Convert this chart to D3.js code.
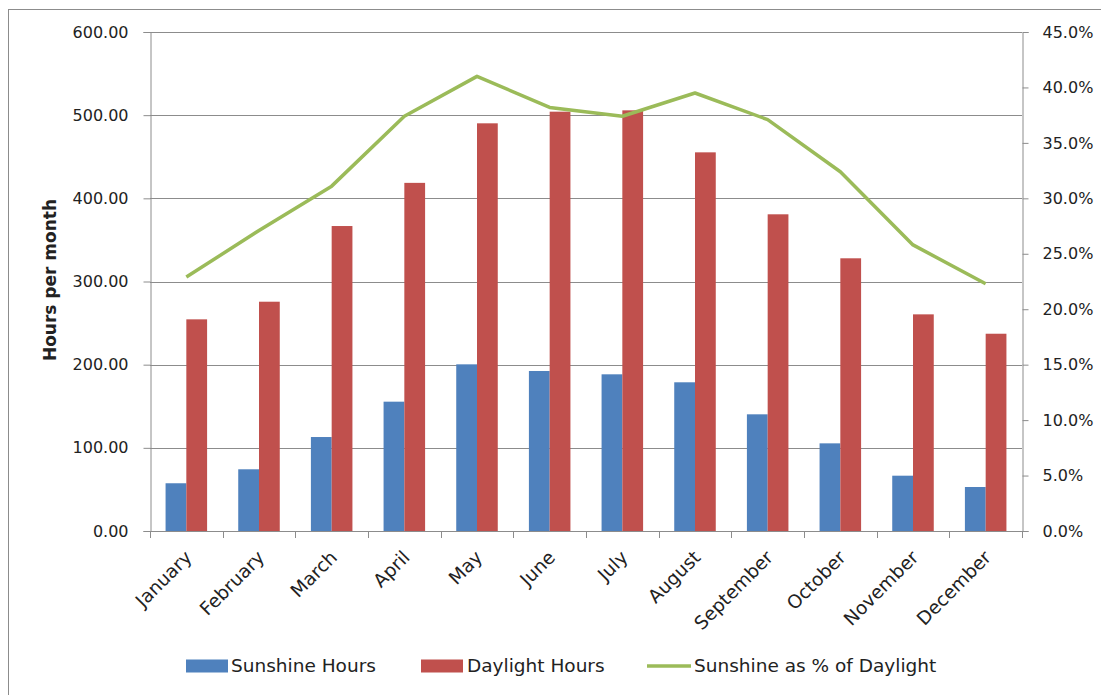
<!DOCTYPE html>
<html>
<head>
<meta charset="utf-8">
<script src="https://cdn.jsdelivr.net/npm/d3@7"></script>
<style>
  html, body { margin: 0; padding: 0; background: #fff; }
  svg { display: block; }
  text { font-family: "DejaVu Sans", Verdana, sans-serif; fill: #222; }
</style>
</head>
<body>
<svg id="chart" width="1101" height="695"></svg>
<script>
const months = ["January","February","March","April","May","June","July","August","September","October","November","December"];
const sunshineHours = [57.4, 74.2, 113.0, 155.5, 200.4, 192.4, 188.4, 178.8, 140.3, 105.4, 66.5, 52.9];
const daylightHours = [254.5, 275.7, 366.7, 418.6, 490.2, 504.2, 505.8, 455.3, 380.8, 327.9, 260.5, 237.2];
const sunshinePct = [0.229, 0.271, 0.311, 0.374, 0.410, 0.382, 0.374, 0.395, 0.371, 0.324, 0.258, 0.223];
const leftTicks = [0, 100, 200, 300, 400, 500, 600];
const rightTicks = [0, 0.05, 0.10, 0.15, 0.20, 0.25, 0.30, 0.35, 0.40, 0.45];
const seriesNames = ["Sunshine Hours", "Daylight Hours", "Sunshine as % of Daylight"];

const colors = { sun: "#4F81BD", day: "#C0504D", pct: "#9BBB59", grid: "#8c8c8c", axis: "#8c8c8c" };

const svg = d3.select("#chart");
const L = 150, R = 1022, T = 32, B = 531;

// outer border
svg.append("rect").attr("x", 8.5).attr("y", 9.5).attr("width", 1200).attr("height", 800)
  .attr("fill", "none").attr("stroke", "#8c8c8c").attr("stroke-width", 1);

const x = d3.scaleBand().domain(months).range([L, R]).paddingInner(0).paddingOuter(0);
const bw = x.bandwidth() / 3.5;
const y = d3.scaleLinear().domain([0, 600]).range([B, T]);
const y2 = d3.scaleLinear().domain([0, 0.45]).range([B, T]);

// gridlines
svg.append("g").selectAll("line").data(leftTicks.filter(d => d > 0)).join("line")
  .attr("x1", L).attr("x2", R)
  .attr("y1", d => Math.round(y(d)) + 0.5).attr("y2", d => Math.round(y(d)) + 0.5)
  .attr("stroke", colors.grid).attr("stroke-width", 1);

// bars
const gBars = svg.append("g");
gBars.selectAll("rect.sun").data(sunshineHours).join("rect").attr("class", "sun")
  .attr("x", (d, i) => x(months[i]) + x.bandwidth() / 2 - bw)
  .attr("width", bw)
  .attr("y", d => y(d)).attr("height", d => B - y(d))
  .attr("fill", colors.sun);
gBars.selectAll("rect.day").data(daylightHours).join("rect").attr("class", "day")
  .attr("x", (d, i) => x(months[i]) + x.bandwidth() / 2)
  .attr("width", bw)
  .attr("y", d => y(d)).attr("height", d => B - y(d))
  .attr("fill", colors.day);

// line
const line = d3.line()
  .x((d, i) => x(months[i]) + x.bandwidth() / 2)
  .y(d => y2(d));
svg.append("path").datum(sunshinePct).attr("d", line)
  .attr("fill", "none").attr("stroke", colors.pct).attr("stroke-width", 3.5)
  .attr("stroke-linejoin", "round");

// left axis
const axL = d3.axisLeft(y).tickValues(leftTicks).tickFormat(d3.format(".2f")).tickSize(7).tickPadding(15);
const gL = svg.append("g").attr("transform", `translate(${L + 0.5},0)`).call(axL);
// right axis
const axR = d3.axisRight(y2).tickValues(rightTicks).tickFormat(d3.format(".1%")).tickSize(6).tickPadding(14);
const gR = svg.append("g").attr("transform", `translate(${R + 0.5},0)`).call(axR);
// bottom axis
const axB = d3.axisBottom(x).tickSize(0).tickFormat("");
const gB = svg.append("g").attr("transform", `translate(0,${B + 0.5})`).call(axB);

[gL, gR, gB].forEach(g => {
  g.select(".domain").attr("stroke", colors.axis);
  g.selectAll(".tick line").attr("stroke", colors.axis);
  g.selectAll("text").attr("font-family", "DejaVu Sans").attr("font-size", 16).attr("fill", "#222");
});
gB.select(".domain").attr("d", `M${L},0H${R}`);

// category tick marks at band boundaries
const bounds = months.map(m => x(m)).concat([R]);
svg.append("g").selectAll("line").data(bounds).join("line")
  .attr("x1", d => Math.round(d) + 0.5).attr("x2", d => Math.round(d) + 0.5)
  .attr("y1", B).attr("y2", B + 7)
  .attr("stroke", colors.axis);

// category labels
svg.append("g").selectAll("text").data(months).join("text")
  .attr("transform", d => `translate(${x(d) + x.bandwidth() / 2 + 2},${B + 23}) rotate(-45)`)
  .attr("text-anchor", "end")
  .attr("dy", "0.35em")
  .attr("font-size", 18.5)
  .text(d => d);

// y axis title
svg.append("text")
  .attr("transform", `translate(56,${280}) rotate(-90)`)
  .attr("text-anchor", "middle")
  .attr("font-weight", "bold")
  .attr("font-size", 17)
  .attr("fill", "#000")
  .text("Hours per month");

// legend
const lg = svg.append("g");
const ly = 666;
lg.append("rect").attr("x", 186).attr("y", ly - 6.5).attr("width", 42).attr("height", 13).attr("fill", colors.sun);
lg.append("text").attr("x", 231).attr("y", ly).attr("dy", "0.35em").attr("font-size", 18.5).text(seriesNames[0]);
lg.append("rect").attr("x", 421).attr("y", ly - 6.5).attr("width", 42).attr("height", 13).attr("fill", colors.day);
lg.append("text").attr("x", 467).attr("y", ly).attr("dy", "0.35em").attr("font-size", 18.5).text(seriesNames[1]);
lg.append("line").attr("x1", 647).attr("x2", 691).attr("y1", ly).attr("y2", ly)
  .attr("stroke", colors.pct).attr("stroke-width", 3.5);
lg.append("text").attr("x", 694).attr("y", ly).attr("dy", "0.35em").attr("font-size", 18.5).text(seriesNames[2]);
</script>
</body>
</html>
